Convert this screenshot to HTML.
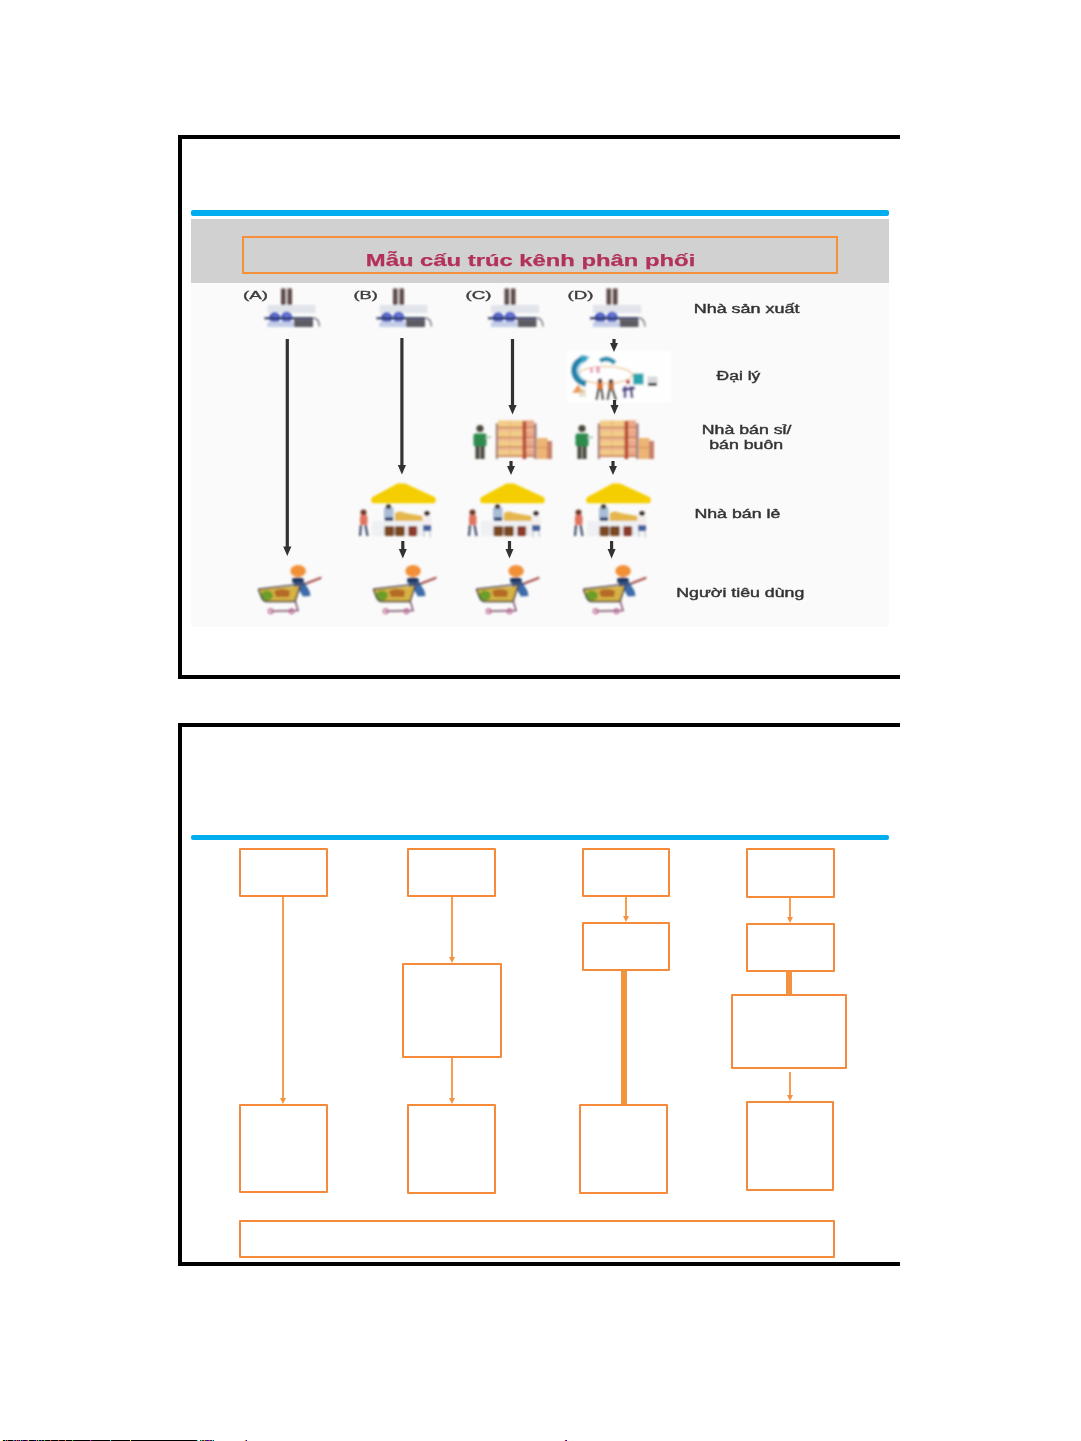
<!DOCTYPE html>
<html><head><meta charset="utf-8">
<style>
html,body{margin:0;padding:0;background:#fff;width:1081px;height:1441px;overflow:hidden;}
svg{position:absolute;left:0;top:0;display:block;}
</style></head>
<body>
<svg width="1081" height="1441" viewBox="0 0 1081 1441" font-family="Liberation Sans, sans-serif">
<defs>
<filter id="soft" x="-5%" y="-5%" width="110%" height="110%"><feGaussianBlur stdDeviation="0.85"/></filter>
<filter id="soft2" x="-5%" y="-5%" width="110%" height="110%"><feGaussianBlur stdDeviation="0.35"/></filter>


  <rect x="23.6" y="0.5" width="2.4" height="39" fill="#B5664A"/>
  <rect x="52.3" y="0.5" width="2.6" height="39" fill="#A83020"/>
  <rect x="63.3" y="0.5" width="2" height="39" fill="#B5664A"/>
  <rect x="65.3" y="17" width="15" height="22" fill="#EDBF88"/>
  <rect x="65.3" y="26" width="15" height="1" fill="#D69A60"/>
</g>



</defs>

<!-- ============ SLIDE 1 ============ -->
<!-- borders -->
<rect x="178" y="135" width="722" height="4" fill="#000"/>
<rect x="178" y="675" width="722" height="4" fill="#000"/>
<rect x="178" y="135" width="4" height="544" fill="#000"/>
<!-- blue bar -->
<rect x="191" y="210" width="698" height="6" rx="2" fill="#00AEEF"/>
<!-- picture -->
<rect x="191" y="219" width="698" height="408" fill="#FAFAFA"/>
<rect x="191" y="219" width="698" height="64" fill="#D1D1D1"/>
<rect x="243" y="237" width="594" height="36" fill="none" stroke="#F4903A" stroke-width="2"/>
<text x="365.8" y="265.5" font-size="16" font-weight="bold" fill="#B3305A" stroke="#B3305A" stroke-width="0.25" textLength="329.5" lengthAdjust="spacingAndGlyphs" filter="url(#soft2)">Mẫu cấu trúc kênh phân phối</text>

<g filter="url(#soft)">
<!-- factories -->
<g transform="translate(264 288)">
  <rect x="17" y="0.5" width="4.6" height="17.5" fill="#5E4C4A"/>
  <rect x="23.4" y="0.5" width="4.6" height="17.5" fill="#5E4C4A"/>
  <rect x="3.5" y="17" width="48" height="8" fill="#E2E4EC"/>
  <circle cx="10.7" cy="29.6" r="5.6" fill="#4D5EC2"/>
  <circle cx="22.6" cy="29.2" r="5.6" fill="#5566CC"/>
  <circle cx="11" cy="29" r="2.5" fill="#6A7CE0" opacity=".7"/>
  <circle cx="23" cy="28.6" r="2.5" fill="#7282E6" opacity=".7"/>
  <rect x="0.5" y="29.2" width="48.5" height="2.2" fill="#2E3460"/>
  <rect x="30" y="31.4" width="19" height="7.6" fill="#5C5C62"/>
  <rect x="3.5" y="33.6" width="26.5" height="5.4" fill="#C4CCE8"/>
  <path d="M49 30 Q55 30 55.5 38.5" fill="none" stroke="#80808A" stroke-width="1.6"/>
</g>
<g transform="translate(376 288)">
  <rect x="17" y="0.5" width="4.6" height="17.5" fill="#5E4C4A"/>
  <rect x="23.4" y="0.5" width="4.6" height="17.5" fill="#5E4C4A"/>
  <rect x="3.5" y="17" width="48" height="8" fill="#E2E4EC"/>
  <circle cx="10.7" cy="29.6" r="5.6" fill="#4D5EC2"/>
  <circle cx="22.6" cy="29.2" r="5.6" fill="#5566CC"/>
  <circle cx="11" cy="29" r="2.5" fill="#6A7CE0" opacity=".7"/>
  <circle cx="23" cy="28.6" r="2.5" fill="#7282E6" opacity=".7"/>
  <rect x="0.5" y="29.2" width="48.5" height="2.2" fill="#2E3460"/>
  <rect x="30" y="31.4" width="19" height="7.6" fill="#5C5C62"/>
  <rect x="3.5" y="33.6" width="26.5" height="5.4" fill="#C4CCE8"/>
  <path d="M49 30 Q55 30 55.5 38.5" fill="none" stroke="#80808A" stroke-width="1.6"/>
</g>
<g transform="translate(487.5 288)">
  <rect x="17" y="0.5" width="4.6" height="17.5" fill="#5E4C4A"/>
  <rect x="23.4" y="0.5" width="4.6" height="17.5" fill="#5E4C4A"/>
  <rect x="3.5" y="17" width="48" height="8" fill="#E2E4EC"/>
  <circle cx="10.7" cy="29.6" r="5.6" fill="#4D5EC2"/>
  <circle cx="22.6" cy="29.2" r="5.6" fill="#5566CC"/>
  <circle cx="11" cy="29" r="2.5" fill="#6A7CE0" opacity=".7"/>
  <circle cx="23" cy="28.6" r="2.5" fill="#7282E6" opacity=".7"/>
  <rect x="0.5" y="29.2" width="48.5" height="2.2" fill="#2E3460"/>
  <rect x="30" y="31.4" width="19" height="7.6" fill="#5C5C62"/>
  <rect x="3.5" y="33.6" width="26.5" height="5.4" fill="#C4CCE8"/>
  <path d="M49 30 Q55 30 55.5 38.5" fill="none" stroke="#80808A" stroke-width="1.6"/>
</g>
<g transform="translate(589.5 288)">
  <rect x="17" y="0.5" width="4.6" height="17.5" fill="#5E4C4A"/>
  <rect x="23.4" y="0.5" width="4.6" height="17.5" fill="#5E4C4A"/>
  <rect x="3.5" y="17" width="48" height="8" fill="#E2E4EC"/>
  <circle cx="10.7" cy="29.6" r="5.6" fill="#4D5EC2"/>
  <circle cx="22.6" cy="29.2" r="5.6" fill="#5566CC"/>
  <circle cx="11" cy="29" r="2.5" fill="#6A7CE0" opacity=".7"/>
  <circle cx="23" cy="28.6" r="2.5" fill="#7282E6" opacity=".7"/>
  <rect x="0.5" y="29.2" width="48.5" height="2.2" fill="#2E3460"/>
  <rect x="30" y="31.4" width="19" height="7.6" fill="#5C5C62"/>
  <rect x="3.5" y="33.6" width="26.5" height="5.4" fill="#C4CCE8"/>
  <path d="M49 30 Q55 30 55.5 38.5" fill="none" stroke="#80808A" stroke-width="1.6"/>
</g>
<!-- agent -->
<rect x="567" y="351" width="104" height="52" fill="#FEFEFE"/>
<g transform="translate(571 353)">
  <ellipse cx="34" cy="22" rx="27" ry="8.5" fill="none" stroke="#F0CFA0" stroke-width="1.6"/>
  <path d="M15 5 Q3 8 3 18 Q4 28 15 31" fill="none" stroke="#2484AA" stroke-width="6"/>
  <path d="M13 9 Q7 12 7.5 18 Q8 24 13 27" fill="none" stroke="#A8DCEC" stroke-width="2"/>
  <path d="M9 2 L19 4 L12 10 Z" fill="#36A8C8"/>
  <path d="M29 8 Q36 3 44 10" fill="none" stroke="#2890B0" stroke-width="4.5"/>
  <rect x="19" y="14" width="3" height="6" fill="#EAA8C0"/>
  <rect x="25" y="13" width="4" height="7" fill="#EAA8C0"/>
  <rect x="62" y="20.5" width="10.5" height="11" fill="#2AA6B0"/>
  <rect x="76.5" y="23.5" width="10" height="8" fill="#D8D8DC"/>
  <rect x="77" y="30" width="9" height="3" fill="#222"/>
  <path d="M1 40 L7 31.5 L13.5 40 Z" fill="#EE9A50"/>
  <rect x="8" y="36" width="7" height="8" fill="#D8D0B0" opacity=".6"/>
  <circle cx="29" cy="28" r="2.4" fill="#5A3A2A"/>
  <rect x="26" y="30" width="6" height="6.5" fill="#E0782E"/>
  <path d="M27.5 36 L25.5 47 M30.5 36 L32 47" stroke="#3E3826" stroke-width="2.4"/>
  <circle cx="40" cy="28.5" r="2.4" fill="#5A3A2A"/>
  <rect x="37" y="30.5" width="6" height="6.5" fill="#C87430"/>
  <path d="M38.5 36.5 L36.5 47 M41.5 36.5 L45 47" stroke="#3E3826" stroke-width="2.4"/>
  <circle cx="57" cy="29" r="2.2" fill="#C04060"/>
  <path d="M51 37 L64 35 M54 33 L54 45 M60 33 L61 45" stroke="#5A4A8A" stroke-width="2.8"/>
</g>
<!-- warehouses -->
<g transform="translate(472 420)">
  <circle cx="8" cy="8.5" r="3.6" fill="#4E4A3C"/>
  <rect x="1.5" y="13.5" width="13" height="13" rx="2" fill="#2E8A4E"/>
  <rect x="3.5" y="26" width="4" height="13" fill="#45443A"/>
  <rect x="8.5" y="26" width="4" height="13" fill="#45443A"/>
  <path d="M13 18 L19 17" stroke="#9CC0A8" stroke-width="1.5"/>
  <rect x="26" y="0.5" width="36" height="36.5" fill="#F2CC88"/>
  <rect x="54" y="0.5" width="8" height="36.5" fill="#EBA88A"/>
  <g fill="#EFB890">
    <rect x="26" y="8.5" width="36" height="2.5"/>
    <rect x="26" y="18.5" width="36" height="2.5"/>
    <rect x="26" y="28" width="36" height="2.5"/>
  </g>
  <g fill="#C67A5A">
    <rect x="25" y="6.8" width="39" height="1.3"/>
    <rect x="25" y="16.8" width="39" height="1.3"/>
    <rect x="25" y="26.2" width="39" height="1.3"/>
    <rect x="25" y="35.2" width="39" height="1.6"/>
  </g>
  <rect x="37.8" y="0.5" width="0.8" height="36" fill="#D9A070" opacity=".6"/>
  <rect x="23.8" y="3.4" width="2.2" height="35.6" fill="#A88078"/>
  <rect x="50.6" y="1" width="3.6" height="38" fill="#B84A30"/>
  <rect x="62" y="3.4" width="2.6" height="35.6" fill="#A08080"/>
  <rect x="64.6" y="18" width="11" height="21" fill="#EDB474"/>
  <rect x="75" y="21" width="5" height="18" fill="#C8806A"/>
  <rect x="64.6" y="27" width="15" height="1" fill="#D08A58"/>
</g>
<g transform="translate(574 420)">
  <circle cx="8" cy="8.5" r="3.6" fill="#4E4A3C"/>
  <rect x="1.5" y="13.5" width="13" height="13" rx="2" fill="#2E8A4E"/>
  <rect x="3.5" y="26" width="4" height="13" fill="#45443A"/>
  <rect x="8.5" y="26" width="4" height="13" fill="#45443A"/>
  <path d="M13 18 L19 17" stroke="#9CC0A8" stroke-width="1.5"/>
  <rect x="26" y="0.5" width="36" height="36.5" fill="#F2CC88"/>
  <rect x="54" y="0.5" width="8" height="36.5" fill="#EBA88A"/>
  <g fill="#EFB890">
    <rect x="26" y="8.5" width="36" height="2.5"/>
    <rect x="26" y="18.5" width="36" height="2.5"/>
    <rect x="26" y="28" width="36" height="2.5"/>
  </g>
  <g fill="#C67A5A">
    <rect x="25" y="6.8" width="39" height="1.3"/>
    <rect x="25" y="16.8" width="39" height="1.3"/>
    <rect x="25" y="26.2" width="39" height="1.3"/>
    <rect x="25" y="35.2" width="39" height="1.6"/>
  </g>
  <rect x="37.8" y="0.5" width="0.8" height="36" fill="#D9A070" opacity=".6"/>
  <rect x="23.8" y="3.4" width="2.2" height="35.6" fill="#A88078"/>
  <rect x="50.6" y="1" width="3.6" height="38" fill="#B84A30"/>
  <rect x="62" y="3.4" width="2.6" height="35.6" fill="#A08080"/>
  <rect x="64.6" y="18" width="11" height="21" fill="#EDB474"/>
  <rect x="75" y="21" width="5" height="18" fill="#C8806A"/>
  <rect x="64.6" y="27" width="15" height="1" fill="#D08A58"/>
</g>
<!-- stalls -->
<g transform="translate(358 483)">
  <path d="M39.5 0.5 L47 0.5 L76.5 14 Q78 15 77.8 17.5 Q77.5 20.2 75.5 20.2 L15.5 20.2 Q13.3 20.2 13.2 17.5 Q13 15 14.5 14 Z" fill="#F4CE00"/>
  <rect x="14" y="38" width="52" height="15" fill="#EEF0F3"/>
  <rect x="26" y="24" width="9.5" height="14" rx="2" fill="#A9BDD6"/>
  <circle cx="30.5" cy="23.5" r="2.6" fill="#4A3A30"/>
  <rect x="27" y="34.5" width="8" height="3.5" fill="#2E3C6A"/>
  <path d="M36.8 38 L37 30 Q42 27 47 30 L64.5 33 L64.5 38 Z" fill="#E4B64C"/>
  <rect x="26.5" y="43" width="9.8" height="10" rx="1.5" fill="#7A4A22"/>
  <rect x="37" y="43" width="9.8" height="10" rx="1.5" fill="#7A4A22"/>
  <rect x="50.2" y="43" width="9" height="10" rx="1.5" fill="#8A3A2A"/>
  <circle cx="5.5" cy="29.5" r="3" fill="#6E3A2C"/>
  <rect x="2" y="32" width="7.5" height="10" rx="2" fill="#E0735E"/>
  <path d="M3 42 L2 53 M7.5 42 L9.5 53" stroke="#3E4A6C" stroke-width="2.2"/>
  <circle cx="69" cy="30.5" r="2.6" fill="#3A2A22"/>
  <rect x="65" y="33" width="8.5" height="9" rx="1.5" fill="#F4EEEE"/>
  <rect x="65" y="42" width="8" height="6" fill="#4864A0"/>
  <path d="M66.5 48 L66 54 M71.5 48 L72.5 54" stroke="#C8D0D8" stroke-width="1.6"/>
</g>
<g transform="translate(467 483)">
  <path d="M39.5 0.5 L47 0.5 L76.5 14 Q78 15 77.8 17.5 Q77.5 20.2 75.5 20.2 L15.5 20.2 Q13.3 20.2 13.2 17.5 Q13 15 14.5 14 Z" fill="#F4CE00"/>
  <rect x="14" y="38" width="52" height="15" fill="#EEF0F3"/>
  <rect x="26" y="24" width="9.5" height="14" rx="2" fill="#A9BDD6"/>
  <circle cx="30.5" cy="23.5" r="2.6" fill="#4A3A30"/>
  <rect x="27" y="34.5" width="8" height="3.5" fill="#2E3C6A"/>
  <path d="M36.8 38 L37 30 Q42 27 47 30 L64.5 33 L64.5 38 Z" fill="#E4B64C"/>
  <rect x="26.5" y="43" width="9.8" height="10" rx="1.5" fill="#7A4A22"/>
  <rect x="37" y="43" width="9.8" height="10" rx="1.5" fill="#7A4A22"/>
  <rect x="50.2" y="43" width="9" height="10" rx="1.5" fill="#8A3A2A"/>
  <circle cx="5.5" cy="29.5" r="3" fill="#6E3A2C"/>
  <rect x="2" y="32" width="7.5" height="10" rx="2" fill="#E0735E"/>
  <path d="M3 42 L2 53 M7.5 42 L9.5 53" stroke="#3E4A6C" stroke-width="2.2"/>
  <circle cx="69" cy="30.5" r="2.6" fill="#3A2A22"/>
  <rect x="65" y="33" width="8.5" height="9" rx="1.5" fill="#F4EEEE"/>
  <rect x="65" y="42" width="8" height="6" fill="#4864A0"/>
  <path d="M66.5 48 L66 54 M71.5 48 L72.5 54" stroke="#C8D0D8" stroke-width="1.6"/>
</g>
<g transform="translate(573 483)">
  <path d="M39.5 0.5 L47 0.5 L76.5 14 Q78 15 77.8 17.5 Q77.5 20.2 75.5 20.2 L15.5 20.2 Q13.3 20.2 13.2 17.5 Q13 15 14.5 14 Z" fill="#F4CE00"/>
  <rect x="14" y="38" width="52" height="15" fill="#EEF0F3"/>
  <rect x="26" y="24" width="9.5" height="14" rx="2" fill="#A9BDD6"/>
  <circle cx="30.5" cy="23.5" r="2.6" fill="#4A3A30"/>
  <rect x="27" y="34.5" width="8" height="3.5" fill="#2E3C6A"/>
  <path d="M36.8 38 L37 30 Q42 27 47 30 L64.5 33 L64.5 38 Z" fill="#E4B64C"/>
  <rect x="26.5" y="43" width="9.8" height="10" rx="1.5" fill="#7A4A22"/>
  <rect x="37" y="43" width="9.8" height="10" rx="1.5" fill="#7A4A22"/>
  <rect x="50.2" y="43" width="9" height="10" rx="1.5" fill="#8A3A2A"/>
  <circle cx="5.5" cy="29.5" r="3" fill="#6E3A2C"/>
  <rect x="2" y="32" width="7.5" height="10" rx="2" fill="#E0735E"/>
  <path d="M3 42 L2 53 M7.5 42 L9.5 53" stroke="#3E4A6C" stroke-width="2.2"/>
  <circle cx="69" cy="30.5" r="2.6" fill="#3A2A22"/>
  <rect x="65" y="33" width="8.5" height="9" rx="1.5" fill="#F4EEEE"/>
  <rect x="65" y="42" width="8" height="6" fill="#4864A0"/>
  <path d="M66.5 48 L66 54 M71.5 48 L72.5 54" stroke="#C8D0D8" stroke-width="1.6"/>
</g>
<!-- carts -->
<g transform="translate(257 562)">
  <ellipse cx="41.1" cy="9" rx="7.8" ry="6" fill="#F29038"/>
  <path d="M35 16.5 Q41 14.5 46.5 16.5 L47 21 L35.5 21 Z" fill="#23385E"/>
  <path d="M37 21 L47 20 L52.5 29 L53.5 34 L46 34.5 L42 28 L37 27 Z" fill="#3D6AA8"/>
  <path d="M50.5 21 L63.5 16" stroke="#A84A48" stroke-width="2.2" stroke-linecap="round"/>
  <path d="M1.5 27.5 L4.5 35 Q6 39.6 10 39.6 L38 39.6 L43 24 Z" fill="#D6B244"/>
  <ellipse cx="10" cy="33.5" rx="6" ry="5" fill="#6E9E2A"/>
  <path d="M17 29 Q25 25 33 29 L32 35 L19 35 Z" fill="#B56A28"/>
  <path d="M1.2 27.2 L50.5 21.6" stroke="#4A3C48" stroke-width="1.5"/>
  <path d="M1.5 27.5 L4.5 35 Q6 39.6 10 39.6 L38 39.6 L43 24" fill="none" stroke="#3E3A3A" stroke-width="1.5" stroke-linejoin="round"/>
  <path d="M38.5 39.6 L41 48.5 L14 49.3" fill="none" stroke="#7A4A66" stroke-width="1.5"/>
  <circle cx="13.7" cy="49.3" r="2.3" fill="none" stroke="#C07098" stroke-width="1.5"/>
  <circle cx="34.5" cy="49.3" r="2.3" fill="none" stroke="#C07098" stroke-width="1.5"/>
</g>
<g transform="translate(372 562)">
  <ellipse cx="41.1" cy="9" rx="7.8" ry="6" fill="#F29038"/>
  <path d="M35 16.5 Q41 14.5 46.5 16.5 L47 21 L35.5 21 Z" fill="#23385E"/>
  <path d="M37 21 L47 20 L52.5 29 L53.5 34 L46 34.5 L42 28 L37 27 Z" fill="#3D6AA8"/>
  <path d="M50.5 21 L63.5 16" stroke="#A84A48" stroke-width="2.2" stroke-linecap="round"/>
  <path d="M1.5 27.5 L4.5 35 Q6 39.6 10 39.6 L38 39.6 L43 24 Z" fill="#D6B244"/>
  <ellipse cx="10" cy="33.5" rx="6" ry="5" fill="#6E9E2A"/>
  <path d="M17 29 Q25 25 33 29 L32 35 L19 35 Z" fill="#B56A28"/>
  <path d="M1.2 27.2 L50.5 21.6" stroke="#4A3C48" stroke-width="1.5"/>
  <path d="M1.5 27.5 L4.5 35 Q6 39.6 10 39.6 L38 39.6 L43 24" fill="none" stroke="#3E3A3A" stroke-width="1.5" stroke-linejoin="round"/>
  <path d="M38.5 39.6 L41 48.5 L14 49.3" fill="none" stroke="#7A4A66" stroke-width="1.5"/>
  <circle cx="13.7" cy="49.3" r="2.3" fill="none" stroke="#C07098" stroke-width="1.5"/>
  <circle cx="34.5" cy="49.3" r="2.3" fill="none" stroke="#C07098" stroke-width="1.5"/>
</g>
<g transform="translate(475 562)">
  <ellipse cx="41.1" cy="9" rx="7.8" ry="6" fill="#F29038"/>
  <path d="M35 16.5 Q41 14.5 46.5 16.5 L47 21 L35.5 21 Z" fill="#23385E"/>
  <path d="M37 21 L47 20 L52.5 29 L53.5 34 L46 34.5 L42 28 L37 27 Z" fill="#3D6AA8"/>
  <path d="M50.5 21 L63.5 16" stroke="#A84A48" stroke-width="2.2" stroke-linecap="round"/>
  <path d="M1.5 27.5 L4.5 35 Q6 39.6 10 39.6 L38 39.6 L43 24 Z" fill="#D6B244"/>
  <ellipse cx="10" cy="33.5" rx="6" ry="5" fill="#6E9E2A"/>
  <path d="M17 29 Q25 25 33 29 L32 35 L19 35 Z" fill="#B56A28"/>
  <path d="M1.2 27.2 L50.5 21.6" stroke="#4A3C48" stroke-width="1.5"/>
  <path d="M1.5 27.5 L4.5 35 Q6 39.6 10 39.6 L38 39.6 L43 24" fill="none" stroke="#3E3A3A" stroke-width="1.5" stroke-linejoin="round"/>
  <path d="M38.5 39.6 L41 48.5 L14 49.3" fill="none" stroke="#7A4A66" stroke-width="1.5"/>
  <circle cx="13.7" cy="49.3" r="2.3" fill="none" stroke="#C07098" stroke-width="1.5"/>
  <circle cx="34.5" cy="49.3" r="2.3" fill="none" stroke="#C07098" stroke-width="1.5"/>
</g>
<g transform="translate(582 562)">
  <ellipse cx="41.1" cy="9" rx="7.8" ry="6" fill="#F29038"/>
  <path d="M35 16.5 Q41 14.5 46.5 16.5 L47 21 L35.5 21 Z" fill="#23385E"/>
  <path d="M37 21 L47 20 L52.5 29 L53.5 34 L46 34.5 L42 28 L37 27 Z" fill="#3D6AA8"/>
  <path d="M50.5 21 L63.5 16" stroke="#A84A48" stroke-width="2.2" stroke-linecap="round"/>
  <path d="M1.5 27.5 L4.5 35 Q6 39.6 10 39.6 L38 39.6 L43 24 Z" fill="#D6B244"/>
  <ellipse cx="10" cy="33.5" rx="6" ry="5" fill="#6E9E2A"/>
  <path d="M17 29 Q25 25 33 29 L32 35 L19 35 Z" fill="#B56A28"/>
  <path d="M1.2 27.2 L50.5 21.6" stroke="#4A3C48" stroke-width="1.5"/>
  <path d="M1.5 27.5 L4.5 35 Q6 39.6 10 39.6 L38 39.6 L43 24" fill="none" stroke="#3E3A3A" stroke-width="1.5" stroke-linejoin="round"/>
  <path d="M38.5 39.6 L41 48.5 L14 49.3" fill="none" stroke="#7A4A66" stroke-width="1.5"/>
  <circle cx="13.7" cy="49.3" r="2.3" fill="none" stroke="#C07098" stroke-width="1.5"/>
  <circle cx="34.5" cy="49.3" r="2.3" fill="none" stroke="#C07098" stroke-width="1.5"/>
</g>
</g>
<g filter="url(#soft2)">
<!-- dark arrows -->
<g stroke="#333" stroke-width="3.2">
  <line x1="287.3" y1="339" x2="287.3" y2="548"/>
  <line x1="401.9" y1="338" x2="401.9" y2="466"/>
  <line x1="512.5" y1="339" x2="512.5" y2="406"/>
  <line x1="614" y1="339" x2="614" y2="344"/>
  <line x1="614.5" y1="400" x2="614.5" y2="406"/>
  <line x1="511" y1="461" x2="511" y2="467"/>
  <line x1="613" y1="461" x2="613" y2="467"/>
  <line x1="402.8" y1="541" x2="402.8" y2="550"/>
  <line x1="509.5" y1="541" x2="509.5" y2="550"/>
  <line x1="611.6" y1="541" x2="611.6" y2="550"/>
</g>
<g fill="#333">
  <path d="M283.2 546.5 L291.4 546.5 L287.3 556 Z"/>
  <path d="M397.8 465 L406 465 L401.9 474.5 Z"/>
  <path d="M508.4 405 L516.6 405 L512.5 414.5 Z"/>
  <path d="M610 343 L618 343 L614 352 Z"/>
  <path d="M610.5 405 L618.5 405 L614.5 414.5 Z"/>
  <path d="M507 466 L515 466 L511 475 Z"/>
  <path d="M609 466 L617 466 L613 475 Z"/>
  <path d="M398.8 549 L406.8 549 L402.8 558.5 Z"/>
  <path d="M505.5 549 L513.5 549 L509.5 558.5 Z"/>
  <path d="M607.6 549 L615.6 549 L611.6 558.5 Z"/>
</g>
</g>
<!-- labels -->
<g font-size="11.5" fill="#3C3C3C" stroke="#3C3C3C" stroke-width="0.35" filter="url(#soft2)">
  <text x="243" y="298.6" textLength="25" lengthAdjust="spacingAndGlyphs">(A)</text>
  <text x="353.5" y="298.6" textLength="24.5" lengthAdjust="spacingAndGlyphs">(B)</text>
  <text x="465.5" y="298.6" textLength="26" lengthAdjust="spacingAndGlyphs">(C)</text>
  <text x="567.5" y="298.6" textLength="26" lengthAdjust="spacingAndGlyphs">(D)</text>
</g>
<g font-size="12.5" fill="#333" stroke="#333" stroke-width="0.4" filter="url(#soft2)">
  <text x="693.7" y="313" textLength="105.8" lengthAdjust="spacingAndGlyphs">Nhà sản xuất</text>
  <text x="716.6" y="379.5" textLength="43.7" lengthAdjust="spacingAndGlyphs">Đại lý</text>
  <text x="701.8" y="434" textLength="89.6" lengthAdjust="spacingAndGlyphs">Nhà bán sỉ/</text>
  <text x="709.2" y="449.2" textLength="74" lengthAdjust="spacingAndGlyphs">bán buôn</text>
  <text x="694.4" y="518" textLength="85.9" lengthAdjust="spacingAndGlyphs">Nhà bán lẻ</text>
  <text x="676.3" y="596.6" textLength="128" lengthAdjust="spacingAndGlyphs">Người tiêu dùng</text>
</g>

<!-- ============ SLIDE 2 ============ -->
<rect x="178" y="723" width="722" height="4" fill="#000"/>
<rect x="178" y="1262" width="722" height="4" fill="#000"/>
<rect x="178" y="723" width="4" height="543" fill="#000"/>
<rect x="191" y="835" width="698" height="5" rx="2" fill="#00AEEF"/>

<g fill="none" stroke="#F58B3A" stroke-width="2" stroke-linejoin="round">
  <!-- col A -->
  <rect x="240" y="849" width="87" height="47"/>
  <rect x="240" y="1105" width="87" height="87"/>
  <!-- col B -->
  <rect x="408" y="849" width="87" height="47"/>
  <rect x="403" y="964" width="98" height="93"/>
  <rect x="408" y="1105" width="87" height="88"/>
  <!-- col C -->
  <rect x="583" y="849" width="86" height="47"/>
  <rect x="583" y="923" width="86" height="47"/>
  <rect x="580" y="1105" width="87" height="88"/>
  <!-- col D -->
  <rect x="747" y="849" width="87" height="48"/>
  <rect x="747" y="924" width="87" height="47"/>
  <rect x="732" y="995" width="114" height="73"/>
  <rect x="747" y="1102" width="86" height="88"/>
  <!-- long -->
  <rect x="240" y="1221" width="594" height="36"/>
</g>
<!-- connectors -->
<g stroke="#F4933F" stroke-width="1.8">
  <line x1="283" y1="897" x2="283" y2="1100"/>
  <line x1="452" y1="897" x2="452" y2="959"/>
  <line x1="452" y1="1058" x2="452" y2="1100"/>
  <line x1="626" y1="897" x2="626" y2="918"/>
  <line x1="790" y1="897" x2="790" y2="919"/>
  <line x1="790" y1="1072" x2="790" y2="1097"/>
</g>
<g fill="#F4933F">
  <path d="M280 1098 L286 1098 L283 1104 Z"/>
  <path d="M449 957 L455 957 L452 963 Z"/>
  <path d="M449 1098 L455 1098 L452 1104 Z"/>
  <path d="M623 916 L629 916 L626 922 Z"/>
  <path d="M787 917 L793 917 L790 923 Z"/>
  <path d="M787 1095 L793 1095 L790 1101 Z"/>
  <rect x="621" y="970" width="6" height="134"/>
  <rect x="786" y="971" width="6" height="24"/>
</g>

<!-- bottom noise line -->
<g shape-rendering="crispEdges">
<rect x="2" y="1440" width="195" height="1" fill="#000"/>
<rect x="2" y="1440" width="1" height="1" fill="#FF0"/>
<rect x="5" y="1440" width="1" height="1" fill="#0CF"/>
<rect x="7" y="1440" width="1" height="1" fill="#F44"/>
<rect x="13" y="1440" width="1" height="1" fill="#0C8"/>
<rect x="14" y="1440" width="1" height="1" fill="#80F"/>
<rect x="16" y="1440" width="1" height="1" fill="#F60"/>
<rect x="18" y="1440" width="1" height="1" fill="#C0F"/>
<rect x="20" y="1440" width="1" height="1" fill="#0F8"/>
<rect x="22" y="1440" width="1" height="1" fill="#80F"/>
<rect x="26" y="1440" width="1" height="1" fill="#00F"/>
<rect x="27" y="1440" width="1" height="1" fill="#F00"/>
<rect x="28" y="1440" width="1" height="1" fill="#8F0"/>
<rect x="34" y="1440" width="1" height="1" fill="#00F"/>
<rect x="36" y="1440" width="1" height="1" fill="#F80"/>
<rect x="38" y="1440" width="1" height="1" fill="#0F8"/>
<rect x="41" y="1440" width="1" height="1" fill="#44F"/>
<rect x="44" y="1440" width="1" height="1" fill="#0F0"/>
<rect x="50" y="1440" width="1" height="1" fill="#F40"/>
<rect x="58" y="1440" width="1" height="1" fill="#F40"/>
<rect x="65" y="1440" width="1" height="1" fill="#F80"/>
<rect x="72" y="1440" width="1" height="1" fill="#0F0"/>
<rect x="90" y="1440" width="1" height="1" fill="#F0F"/>
<rect x="110" y="1440" width="1" height="1" fill="#0FF"/>
<rect x="130" y="1440" width="1" height="1" fill="#FF0"/>
<rect x="197" y="1440" width="1" height="1" fill="#0FF"/>
<rect x="200" y="1440" width="14" height="1" fill="#333"/>
<rect x="201" y="1440" width="1" height="1" fill="#0F8"/>
<rect x="204" y="1440" width="1" height="1" fill="#F80"/>
<rect x="207" y="1440" width="1" height="1" fill="#00F"/>
<rect x="209" y="1440" width="1" height="1" fill="#F0F"/>
<rect x="212" y="1440" width="1" height="1" fill="#0FF"/>
<rect x="245" y="1440" width="1" height="1" fill="#F80"/>
<rect x="246" y="1440" width="1" height="1" fill="#00F"/>
<rect x="565" y="1440" width="1" height="1" fill="#F00"/>
<rect x="566" y="1440" width="1" height="1" fill="#00F"/>
</g>
</svg>
</body></html>
